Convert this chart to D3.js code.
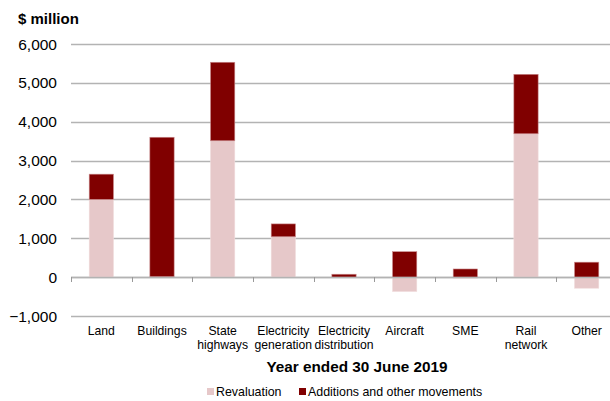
<!DOCTYPE html>
<html><head><meta charset="utf-8">
<script src="https://cdn.jsdelivr.net/npm/d3@7"></script>
<style>body{margin:0;background:#fff}svg{display:block;font-family:"Liberation Sans",Arial,sans-serif}</style>
</head><body><svg id="c" width="610" height="401"></svg>
<script>
const categories = [["Land"],["Buildings"],["State","highways"],["Electricity","generation"],["Electricity","distribution"],["Aircraft"],["SME"],["Rail","network"],["Other"]];
const revaluation = [2000, 10, 3510, 1040, 0, -370, -30, 3690, -285];
const additions = [650, 3590, 2020, 330, 75, 655, 210, 1530, 385];
const yTicks = [-1000, 0, 1000, 2000, 3000, 4000, 5000, 6000];
const seriesNames = ["Revaluation", "Additions and other movements"];
const colors = ["#e6c8c9", "#800000"];

const svg = d3.select("#c");
const x0 = 71, x1 = 617;
const x = d3.scaleBand().domain(d3.range(categories.length)).range([x0, x1]).paddingInner(0.6).paddingOuter(0.3);
const xb = d3.scaleBand().domain(d3.range(categories.length)).range([x0, x1]);
const y = d3.scaleLinear().domain([-1000, 6000]).range([316, 44]);

// gridlines
svg.append("g").selectAll("line").data(yTicks).join("line")
  .attr("x1", x0).attr("x2", 610).attr("y1", d => Math.round(y(d)) + 0.5).attr("y2", d => Math.round(y(d)) + 0.5)
  .attr("stroke", "#b3b3b3").attr("stroke-width", 1.3);

// y labels
svg.append("g").selectAll("text").data(yTicks).join("text")
  .attr("x", 57).attr("y", d => y(d) + 5.5).attr("text-anchor", "end")
  .attr("font-size", 15.5).attr("fill", "#000").text(d => d3.format(",")(d));

// bars
const stacks = categories.map((c, i) => {
  const r = revaluation[i], a = additions[i];
  const base = r > 0 ? r : 0;
  return [{i, s: 0, y0: 0, y1: r}, {i, s: 1, y0: base, y1: base + a}];
}).flat();

svg.append("g").selectAll("rect").data(stacks).join("rect")
  .attr("x", d => x(d.i)).attr("width", x.bandwidth())
  .attr("y", d => y(Math.max(d.y0, d.y1))).attr("height", d => Math.abs(y(d.y0) - y(d.y1)))
  .attr("fill", d => colors[d.s])
  .attr("stroke", d => d.s === 1 ? "#c98a8c" : "#f0dcdc").attr("stroke-width", 0.6);

// zero axis with ticks
svg.append("line").attr("x1", x0).attr("x2", 610).attr("y1", Math.round(y(0)) + 0.5).attr("y2", Math.round(y(0)) + 0.5)
  .attr("stroke", "#b3b3b3").attr("stroke-width", 1.3);
svg.append("g").selectAll("line").data(d3.range(categories.length + 1)).join("line")
  .attr("x1", d => Math.round(x0 + d * xb.step()) + 0.5).attr("x2", d => Math.round(x0 + d * xb.step()) + 0.5)
  .attr("y1", Math.round(y(0))).attr("y2", Math.round(y(0)) + 5)
  .attr("stroke", "#999").attr("stroke-width", 1);

// category labels
const cl = svg.append("g").selectAll("text").data(categories).join("text")
  .attr("x", (d, i) => xb(i) + xb.bandwidth() / 2).attr("y", 335)
  .attr("text-anchor", "middle").attr("font-size", 12.2).attr("fill", "#000");
cl.selectAll("tspan").data(d => d).join("tspan")
  .attr("x", function() { return this.parentNode.getAttribute("x"); })
  .attr("dy", (d, j) => j === 0 ? 0 : 14).text(d => d);

// axis titles
svg.append("text").attr("x", 18).attr("y", 24).attr("font-size", 15).attr("font-weight", "bold").text("$ million");
svg.append("text").attr("x", 357).attr("y", 372).attr("text-anchor", "middle").attr("font-size", 15.3).attr("font-weight", "bold").text("Year ended 30 June 2019");

// legend
const leg = [{x: 207, s: 0}, {x: 299, s: 1}];
leg.forEach(l => {
  svg.append("rect").attr("x", l.x).attr("y", 388).attr("width", 7).attr("height", 7).attr("fill", colors[l.s]);
  svg.append("text").attr("x", l.x + 9).attr("y", 396).attr("font-size", 12.4).text(seriesNames[l.s]);
});
</script></body></html>
